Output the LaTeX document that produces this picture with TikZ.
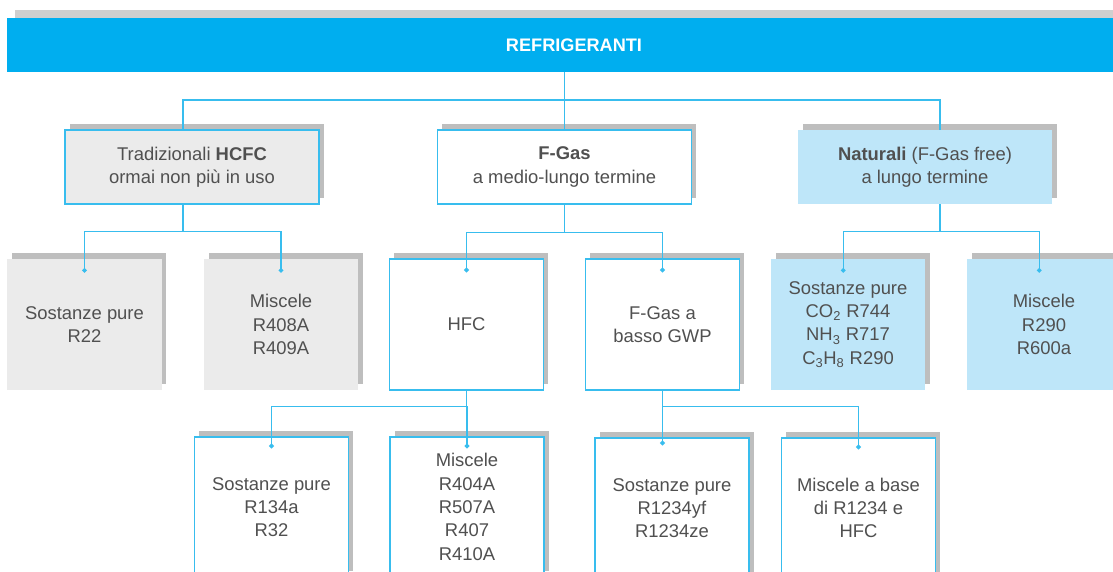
\documentclass[tikz,border=0pt]{standalone}
\usepackage{fontspec}
\setmainfont{Liberation Sans}
\usetikzlibrary{shadows,arrows.meta}

\definecolor{titleblue}{HTML}{00AEEF}
\definecolor{cyanline}{HTML}{38BDEE}
\definecolor{paleblue}{HTML}{BEE6F9}
\definecolor{panelgrey}{HTML}{EBEBEB}
\definecolor{shadowgrey}{HTML}{BEBEBE}
\definecolor{ink}{HTML}{505050}

\tikzset{
    every node/.style={text=ink, align=center, font=\fontsize{13.1}{16.6}\selectfont},
    shade/.style={drop shadow={shadow xshift=3.4pt, shadow yshift=4pt, fill=shadowgrey, opacity=1}},
    topbox/.style={shade, minimum width=6.35cm, minimum height=1.85cm},
    kidbox/.style={shade, minimum width=3.85cm, minimum height=3.275cm},
    leafbox/.style={shade, minimum width=3.85cm, minimum height=3.5cm},
    framed/.style={draw=cyanline, line width=0.9pt},
    link/.style={draw=cyanline, line width=0.8pt},
    tip/.style={link, -{Circle[length=3.3pt]}}
}

\begin{document}
\begin{tikzpicture}[x=0.025cm, y=-0.025cm]
    \useasboundingbox (0,0) rectangle (1113,572);
    \clip (0,0) rectangle (1113,572);

    % header bar
    \node[fill=titleblue, minimum width=28.35cm, minimum height=1.35cm, text=white,
          font=\fontsize{12.9}{16.6}\selectfont\bfseries,
          drop shadow={shadow xshift=5.7pt, shadow yshift=5.7pt, fill=black!19, opacity=1}]
        (title) at (574,45) {REFRIGERANTI};

    % first level
    \node[topbox, framed, fill=panelgrey] (hcfc) at (192,167) {Tradizionali \textbf{HCFC}\\ormai non più in uso};
    \node[topbox, framed, fill=white] (fgas) at (564.5,167) {\textbf{F-Gas}\\a medio-lungo termine};
    \node[topbox, fill=paleblue] (natur) at (925,167) {\textbf{Naturali} (F-Gas free)\\a lungo termine};

    % second level
    \node[kidbox, fill=panelgrey] (r22) at (84.5,324.5) {Sostanze pure\\R22};
    \node[kidbox, fill=panelgrey] (mixold) at (281,324.5) {Miscele\\R408A\\R409A};
    \node[kidbox, framed, fill=white] (hfc) at (466.5,324.5) {HFC};
    \node[kidbox, framed, fill=white] (gwp) at (662.5,324.5) {F-Gas a\\basso GWP};
    \node[kidbox, fill=paleblue] (pure) at (848,324.5) {Sostanze pure\\CO\textsubscript{2} R744\\NH\textsubscript{3} R717\\C\textsubscript{3}H\textsubscript{8} R290};
    \node[kidbox, fill=paleblue] (mixnat) at (1044,324.5) {Miscele\\R290\\R600a};

    % third level
    \node[leafbox, framed, fill=white] (r134) at (271.5,507) {Sostanze pure\\R134a\\R32};
    \node[leafbox, framed, fill=white] (mixhfc) at (467,507) {Miscele\\R404A\\R507A\\R407\\R410A};
    \node[leafbox, framed, fill=white] (yf) at (672,508) {Sostanze pure\\R1234yf\\R1234ze};
    \node[leafbox, framed, fill=white] (mixyf) at (858.5,508) {Miscele a base\\di R1234 e\\HFC};

    % bus under the header
    \coordinate (bus) at (0,100);
    \coordinate (tapA) at (183,0);
    \coordinate (tapC) at (940,0);
    \draw[link] (title.south -| fgas) -- (fgas.north);
    \draw[link] (hcfc.north -| tapA) -- (bus -| tapA) -- (bus -| tapC) -- (natur.north -| tapC);

    % forks down to the children
    \draw[link] (hcfc.south -| tapA) -- ++(0,27) coordinate (ja);
    \draw[link] (fgas.south) -- ++(0,28) coordinate (jb);
    \draw[link] (natur.south -| tapC) -- ++(0,27) coordinate (jc);
    \draw[link] (hfc.south) -- ++(0,16) coordinate (jd);
    \draw[link] (gwp.south) -- ++(0,16) coordinate (je);

    \foreach \kid in {r22, mixold} \draw[tip] (ja) -| ([yshift=-0.35cm]\kid.north);
    \foreach \kid in {hfc, gwp} \draw[tip] (jb) -| ([yshift=-0.35cm]\kid.north);
    \foreach \kid in {pure, mixnat} \draw[tip] (jc) -| ([xshift=-0.12cm, yshift=-0.35cm]\kid.north);
    \foreach \kid in {r134, mixhfc} \draw[tip] (jd) -| ([yshift=-0.3cm]\kid.north);
    \draw[tip] (je) -- ([yshift=-0.2cm]yf.north -| je);
    \draw[tip] (je) -| ([yshift=-0.3cm]mixyf.north);
\end{tikzpicture}
\end{document}
